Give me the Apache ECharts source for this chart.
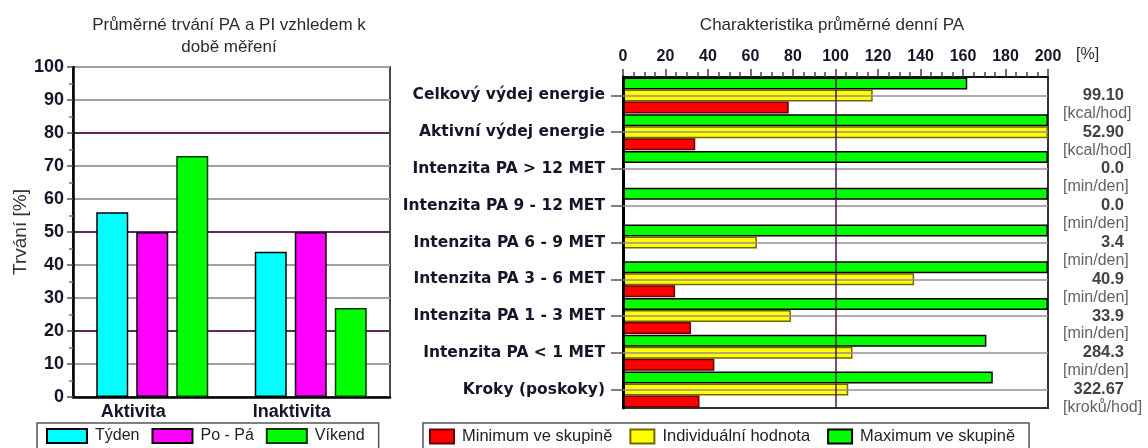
<!DOCTYPE html>
<html><head><meta charset="utf-8">
<script src="https://cdn.jsdelivr.net/npm/echarts@6/dist/echarts.min.js"></script>
<style>html,body{margin:0;padding:0;background:#fff}#c{width:1148px;height:448px}</style>
</head><body><div id="c"></div>
<script>
// ---- Left chart data ----
const leftCategories = ['Aktivita', 'Inaktivita'];
const leftSeriesNames = ['Týden', 'Po - Pá', 'Víkend'];
const tyden = [56, 44];
const poPa = [50, 50];
const vikend = [73, 27];

// ---- Right chart data ----
const rightCategories = [
  'Celkový výdej energie', 'Aktivní výdej energie', 'Intenzita PA > 12 MET',
  'Intenzita PA 9 - 12 MET', 'Intenzita PA 6 - 9 MET', 'Intenzita PA 3 - 6 MET',
  'Intenzita PA 1 - 3 MET', 'Intenzita PA < 1 MET', 'Kroky (poskoky)'
];
const rightSeriesNames = ['Minimum ve skupině', 'Individuální hodnota', 'Maximum ve skupině'];
const minimumVeSkupine = [78, 34, 0, 0, 0, 24.5, 32, 43, 36];
const individualniHodnota = [117.5, 200, 0, 0, 63, 137, 79, 108, 106];
const maximumVeSkupine = [162, 200, 200, 200, 200, 200, 200, 171, 174];
const valueLabels = ['99.10', '52.90', '0.0', '0.0', '3.4', '40.9', '33.9', '284.3', '322.67'];
const unitLabels = ['[kcal/hod]', '[kcal/hod]', '[min/den]', '[min/den]', '[min/den]', '[min/den]', '[min/den]', '[min/den]', '[kroků/hod]'];
const referenceLine = [100];
const labelAnchorValue = 200; // right edge of the % scale, where side notes are anchored

const FONT = '"Liberation Sans", Arial, sans-serif';
const WIDE_BOLD = '"DejaVu Sans", "Liberation Sans", sans-serif';
const chart = echarts.init(document.getElementById('c'), null, { renderer: 'canvas' });

const splitColors = ['#a99ca9', '#a99ca9', '#5e2a5e'];

const option = {
  animation: false,
  backgroundColor: '#ffffff',
  textStyle: { fontFamily: FONT },
  title: [
    { text: 'Průměrné trvání PA a PI vzhledem k\ndobě měření', left: 224, top: 9, textAlign: 'center',
      textStyle: { fontSize: 17, fontWeight: 'normal', color: '#2a2a33', lineHeight: 22, fontFamily: FONT } },
    { text: 'Charakteristika průměrné denní PA', left: 827, top: 9, textAlign: 'center',
      textStyle: { fontSize: 17, fontWeight: 'normal', color: '#2a2a33', lineHeight: 22, fontFamily: FONT } }
  ],
  legend: [
    { data: leftSeriesNames, left: 37, top: 423, orient: 'horizontal', icon: 'rect',
      itemWidth: 40, itemHeight: 14, itemGap: 12, borderColor: '#555', borderWidth: 1.5,
      padding: [5, 14, 5, 9], textStyle: { fontSize: 16, color: '#222', fontFamily: FONT, padding: [0, 0, 0, 3] } },
    { data: rightSeriesNames, left: 423, top: 423, orient: 'horizontal', icon: 'rect',
      itemWidth: 24, itemHeight: 14, itemGap: 17, borderColor: '#555', borderWidth: 1.5,
      padding: [5, 14, 5, 6], textStyle: { fontSize: 16.5, color: '#222', fontFamily: FONT, padding: [0, 0, 0, 3] } }
  ],
  grid: [
    { left: 73, top: 67, width: 317, height: 330, show: true, borderColor: '#4a4a4a', borderWidth: 2 },
    { left: 623, top: 77, width: 425, height: 331, show: true, borderColor: '#333', borderWidth: 2 }
  ],
  xAxis: [
    { gridIndex: 0, type: 'category', data: leftCategories,
      axisLine: { lineStyle: { color: '#000', width: 2.5 } }, axisTick: { show: false },
      axisLabel: { fontSize: 18, fontWeight: 'bold', color: '#15152a', margin: 6, padding: [0, 38, 0, 0], fontFamily: FONT } },
    { gridIndex: 1, type: 'value', position: 'top', min: 0, max: 200, interval: 20,
      axisLine: { show: true, onZero: false, lineStyle: { color: '#111', width: 2 } },
      axisTick: { show: true, length: 8, lineStyle: { color: '#5a2a5a', width: 1.5 } },
      minorTick: { show: true, splitNumber: 4, length: 5, lineStyle: { color: '#444', width: 1.5 } },
      splitLine: { show: false },
      axisLabel: { fontSize: 16, fontWeight: 'bold', color: '#15152a', margin: 12, fontFamily: FONT },
      name: '[%]', nameLocation: 'end', nameGap: 28,
      nameTextStyle: { fontSize: 16, color: '#2a2a33', align: 'left', verticalAlign: 'bottom', padding: [0, 0, 14, 0], fontFamily: FONT } }
  ],
  yAxis: [
    { gridIndex: 0, type: 'value', min: 0, max: 100, interval: 10,
      axisLine: { show: true, lineStyle: { color: '#000', width: 2.5 } },
      axisTick: { show: true, length: 6, lineStyle: { color: '#555', width: 1.5 } },
      minorTick: { show: true, splitNumber: 2, length: 4, lineStyle: { color: '#777', width: 1.5 } },
      splitLine: { show: true, lineStyle: { color: splitColors, width: 2 } },
      axisLabel: { fontSize: 18, fontWeight: 'bold', color: '#15152a', margin: 9, fontFamily: FONT },
      name: 'Trvání [%]', nameLocation: 'middle', nameGap: 43, nameRotate: 90,
      nameTextStyle: { fontSize: 19, color: '#333', fontFamily: FONT } },
    { gridIndex: 1, type: 'category', data: rightCategories, inverse: true, z: 3,
      axisLine: { show: true, lineStyle: { color: '#000', width: 3 } },
      axisTick: { show: true, alignWithLabel: true, length: 12, lineStyle: { color: '#6a4a6a', width: 1.5 } },
      axisLabel: { interval: 0, fontSize: 15.5, fontWeight: 'bold', color: '#15152a', margin: 18, fontFamily: WIDE_BOLD } }
  ],
  series: [
    { name: leftSeriesNames[0], type: 'bar', xAxisIndex: 0, yAxisIndex: 0, data: tyden, barWidth: 32, barGap: '25%', z: 2,
      itemStyle: { color: '#00ffff', borderColor: '#000', borderWidth: 1.5 } },
    { name: leftSeriesNames[1], type: 'bar', xAxisIndex: 0, yAxisIndex: 0, data: poPa, barWidth: 32, barGap: '25%', z: 2,
      itemStyle: { color: '#ff00ff', borderColor: '#000', borderWidth: 1.5 } },
    { name: leftSeriesNames[2], type: 'bar', xAxisIndex: 0, yAxisIndex: 0, data: vikend, barWidth: 32, barGap: '25%', z: 2,
      itemStyle: { color: '#00ff00', borderColor: '#063806', borderWidth: 1.5 } },

    // category centre guide lines (behind bars)
    { type: 'line', xAxisIndex: 1, yAxisIndex: 1, data: [], z: 1, silent: true,
      markLine: { silent: true, symbol: ['none', 'none'], label: { show: false },
        lineStyle: { color: '#9a8aa0', width: 1.5, type: 'solid' },
        data: rightCategories.map(c => ({ yAxis: c })) } },

    { name: rightSeriesNames[2], type: 'bar', xAxisIndex: 1, yAxisIndex: 1, data: maximumVeSkupine, barWidth: 12, barGap: '0%', z: 2,
      itemStyle: { color: '#00ff00', borderColor: '#000', borderWidth: 1.5 } },
    { name: rightSeriesNames[1], type: 'bar', xAxisIndex: 1, yAxisIndex: 1, data: individualniHodnota, barWidth: 12, barGap: '0%', z: 2,
      itemStyle: { color: '#ffff00', borderColor: '#6e6a00', borderWidth: 1.5 } },
    { name: rightSeriesNames[0], type: 'bar', xAxisIndex: 1, yAxisIndex: 1, data: minimumVeSkupine, barWidth: 12, barGap: '0%', z: 2,
      itemStyle: { color: '#ff0000', borderColor: '#6a0000', borderWidth: 1.5 } },

    // 100 % reference line (above bars)
    { type: 'line', xAxisIndex: 1, yAxisIndex: 1, data: [], z: 5, silent: true,
      markLine: { silent: true, symbol: ['none', 'none'], label: { show: false },
        lineStyle: { color: '#4a1848', width: 1.5, type: 'solid' },
        data: referenceLine.map(v => ({ xAxis: v })) } },

    // side notes: values
    { type: 'scatter', xAxisIndex: 1, yAxisIndex: 1, z: 6, silent: true, symbolSize: 1, clip: false,
      itemStyle: { color: 'rgba(0,0,0,0)' },
      data: rightCategories.map((c, i) => [labelAnchorValue, i]),
      label: { show: true, position: 'inside', offset: [76, 0], align: 'right', verticalAlign: 'middle',
        fontSize: 16.5, fontWeight: 'bold', color: '#111', fontFamily: FONT,
        formatter: p => valueLabels[p.dataIndex] } },
    // side notes: units
    { type: 'scatter', xAxisIndex: 1, yAxisIndex: 1, z: 6, silent: true, symbolSize: 1, clip: false,
      itemStyle: { color: 'rgba(0,0,0,0)' },
      data: rightCategories.map((c, i) => [labelAnchorValue, i]),
      label: { show: true, position: 'inside', offset: [15, 18], align: 'left', verticalAlign: 'middle',
        fontSize: 16, color: '#3a3a3a', fontFamily: FONT,
        formatter: p => unitLabels[p.dataIndex] } }
  ]
};
chart.setOption(option);
</script>
</body></html>
